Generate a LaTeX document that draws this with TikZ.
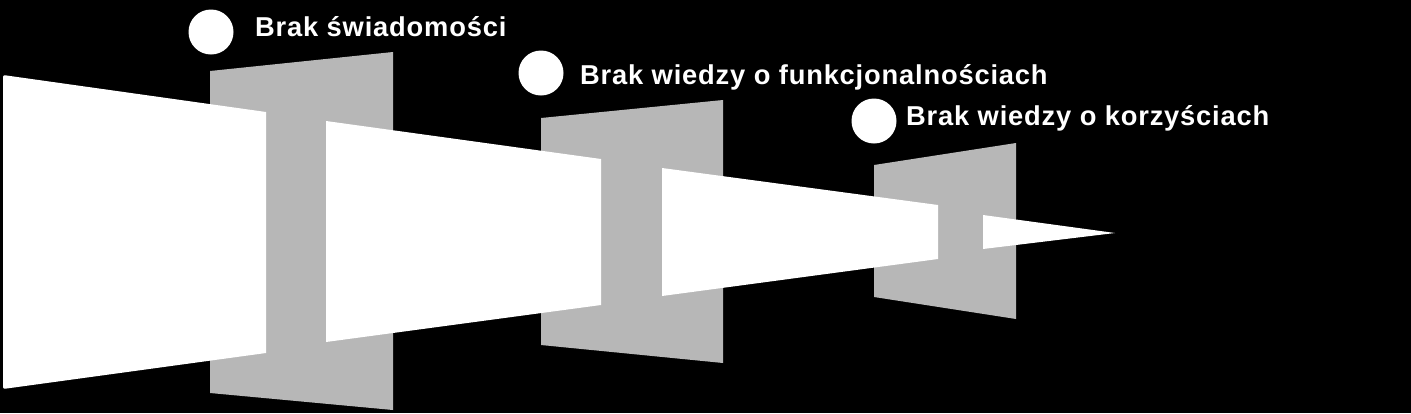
\documentclass[tikz,border=0pt]{standalone}
\usepackage{fontspec}
\setmainfont{Liberation Sans}
\definecolor{panelgray}{RGB}{183,183,183}
\begin{document}
\begin{tikzpicture}[
  x=1pt, y=-1pt,
  panel/.style={fill=panelgray},
  beam/.style={fill=white},
  dot/.style={circle, fill=white, minimum size=45pt, inner sep=0pt},
  label/.style={anchor=base west, inner sep=0pt, text=white,
    font=\addfontfeature{LetterSpace=3}\bfseries\fontsize{27.3}{30}\selectfont}
]
\fill[black] (0,0) rectangle (1411,413);
% gray panels
\fill[panel] (210,71) -- (393,52) -- (393,410) -- (210,393) -- cycle;
\fill[panel] (541,118) -- (723,100) -- (723,363) -- (541,345) -- cycle;
\fill[panel] (874,165) -- (1016,143) -- (1016,319) -- (874,297) -- cycle;
% white funnel
\fill[beam] (266,112) -- (266,353) [rounded corners=2pt] -- (3,389) -- (3,75) [sharp corners] -- cycle;
\fill[beam] (326,121) -- (601,159) -- (601,305) -- (326,342) -- cycle;
\fill[beam] (662,168) -- (938,205) -- (938,259) -- (662,296) -- cycle;
\fill[beam] (983,215) -- (1115,233) -- (983,249) -- cycle;
% labels
\node[dot] (d1) at (211,32) {};
\node[dot] (d2) at (541,73) {};
\node[dot] (d3) at (874,121) {};
\node[label] (l1) at (255,36.7) {Brak świadomości};
\node[label] (l2) at (580,84) {Brak wiedzy o funkcjonalnościach};
\node[label] (l3) at (906,125.5) {Brak wiedzy o korzyściach};
\end{tikzpicture}
\end{document}
